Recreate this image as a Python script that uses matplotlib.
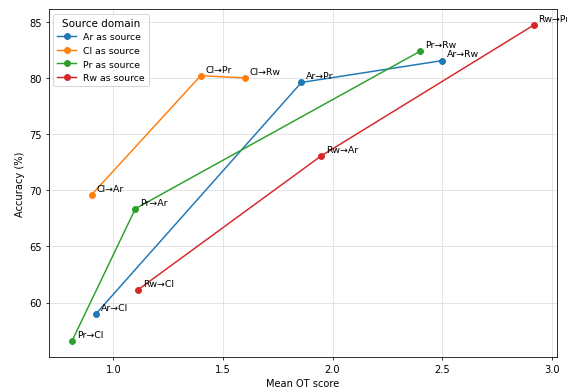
import matplotlib.pyplot as plt

# Mean OT score vs accuracy, grouped by source domain
ar_labels = ['Ar→Cl', 'Ar→Pr', 'Ar→Rw']
ar_ot = [0.918, 1.858, 2.50]
ar_acc = [58.95, 79.6, 81.54]

cl_labels = ['Cl→Ar', 'Cl→Pr', 'Cl→Rw']
cl_ot = [0.90, 1.398, 1.60]
cl_acc = [69.6, 80.2, 80.0]

pr_labels = ['Pr→Cl', 'Pr→Ar', 'Pr→Rw']
pr_ot = [0.81, 1.10, 2.40]
pr_acc = [56.56, 68.36, 82.38]

rw_labels = ['Rw→Cl', 'Rw→Ar', 'Rw→Pr']
rw_ot = [1.111, 1.948, 2.918]
rw_acc = [61.13, 73.06, 84.7]

groups = [
    ('Ar as source', ar_labels, ar_ot, ar_acc),
    ('Cl as source', cl_labels, cl_ot, cl_acc),
    ('Pr as source', pr_labels, pr_ot, pr_acc),
    ('Rw as source', rw_labels, rw_ot, rw_acc),
]

fig, ax = plt.subplots(figsize=(8, 5.5), dpi=70.875)

for name, labels, xs, ys in groups:
    ax.plot(xs, ys, marker='o', label=name)
    for lab, x, y in zip(labels, xs, ys):
        ax.annotate(lab, (x, y), xytext=(5, 4), textcoords='offset points', fontsize=9.5)

ax.set_xlabel('Mean OT score')
ax.set_ylabel('Accuracy (%)')
ax.grid(True, alpha=0.4)
ax.legend(title='Source domain', loc='upper left', fontsize=9.5, title_fontsize=10.5)

fig.subplots_adjust(left=0.086, right=0.982, top=0.974, bottom=0.082)
plt.savefig('out.png')
